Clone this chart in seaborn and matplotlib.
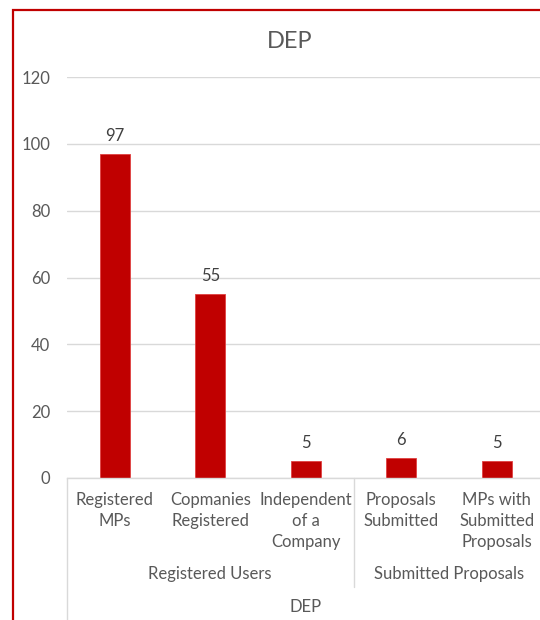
import matplotlib
matplotlib.use("Agg")
import matplotlib.pyplot as plt
from matplotlib.patches import Rectangle
from matplotlib.lines import Line2D
import seaborn as sns
import pandas as pd

# --- data -------------------------------------------------------------
categories = ["Registered\nMPs", "Copmanies\nRegistered", "Independent\nof a\nCompany",
              "Proposals\nSubmitted", "MPs with\nSubmitted\nProposals"]
values = [97, 55, 5, 6, 5]
groups = ["Registered Users", "Registered Users", "Registered Users",
          "Submitted Proposals", "Submitted Proposals"]
top_level = "DEP"
title = "DEP"
y_ticks = [0, 20, 40, 60, 80, 100, 120]

df = pd.DataFrame({"category": categories, "value": values, "group": groups})

# --- style ------------------------------------------------------------
sns.set_theme(style="white")
plt.rcParams["font.family"] = ["Lato", "DejaVu Sans"]
BAR = "#c00000"
GRID = "#d9d9d9"
TXT = "#595959"
FS = 12

W, H = 540, 620
fig = plt.figure(figsize=(W / 100, H / 100), dpi=100)

def fx(px):
    return px / W

def fy(py):
    return 1 - py / H

# plot area in pixel coordinates
x0, x1 = 67, 544.5
y_top, y_bot = 77, 478
ax = fig.add_axes([fx(x0), fy(y_bot), fx(x1 - x0), (y_bot - y_top) / H])

sns.barplot(data=df, x="category", y="value", color=BAR, width=0.31,
            saturation=1, ax=ax, edgecolor="#e04040", linewidth=0.6)
ax.set_xlim(-0.5, len(categories) - 0.5)
ax.set_ylim(0, 120)
ax.set_yticks(y_ticks)
ax.set_yticklabels([str(t) for t in y_ticks], color=TXT, fontsize=FS)
ax.tick_params(axis="y", length=0, pad=12)
ax.tick_params(axis="x", length=0, labelbottom=False)
ax.set_xlabel("")
ax.set_ylabel("")
ax.grid(axis="y", color=GRID, linewidth=1)
ax.set_axisbelow(True)
for s in ["top", "right", "left"]:
    ax.spines[s].set_visible(False)
ax.spines["bottom"].set_color(GRID)
ax.spines["bottom"].set_linewidth(1)

# value labels above bars
for i, v in enumerate(values):
    ax.annotate(str(v), xy=(i, v), xytext=(0, 10), textcoords="offset pixels",
                ha="center", va="bottom", fontsize=FS, color="#404040")

# multi-level category axis
xt = ax.get_xaxis_transform()
for i, c in enumerate(categories):
    ax.annotate(c, xy=(i, 0), xycoords=xt, xytext=(0, -14), textcoords="offset pixels",
                ha="center", va="top", fontsize=FS, color=TXT, linespacing=1.4,
                annotation_clip=False)

group_names = list(dict.fromkeys(groups))
for g in group_names:
    idx = [i for i, gg in enumerate(groups) if gg == g]
    cx = (idx[0] + idx[-1]) / 2
    ax.annotate(g, xy=(cx, 0), xycoords=xt, xytext=(0, -96), textcoords="offset pixels",
                ha="center", va="center", fontsize=FS, color=TXT, annotation_clip=False)
ax.annotate(top_level, xy=((len(categories) - 1) / 2, 0), xycoords=xt,
            xytext=(0, -129), textcoords="offset pixels",
            ha="center", va="center", fontsize=FS, color=TXT, annotation_clip=False)

# separators of the category axis
fig.add_artist(Line2D([fx(x0), fx(x0)], [fy(y_bot), fy(H + 5)], color=GRID, lw=1))
bx = x0 + (x1 - x0) * 3 / 5
fig.add_artist(Line2D([fx(bx), fx(bx)], [fy(y_bot), fy(587)], color=GRID, lw=1))

# title
fig.text(fx(290), fy(41), title, ha="center", va="center", fontsize=17, color=TXT)

# chart frame
fig.add_artist(Rectangle((fx(13), fy(H + 20)), 1.2, (H + 10) / H, transform=fig.transFigure,
                         fill=False, edgecolor="#c00000", linewidth=1.6))

fig.savefig("out.png", dpi=100, facecolor="white")
